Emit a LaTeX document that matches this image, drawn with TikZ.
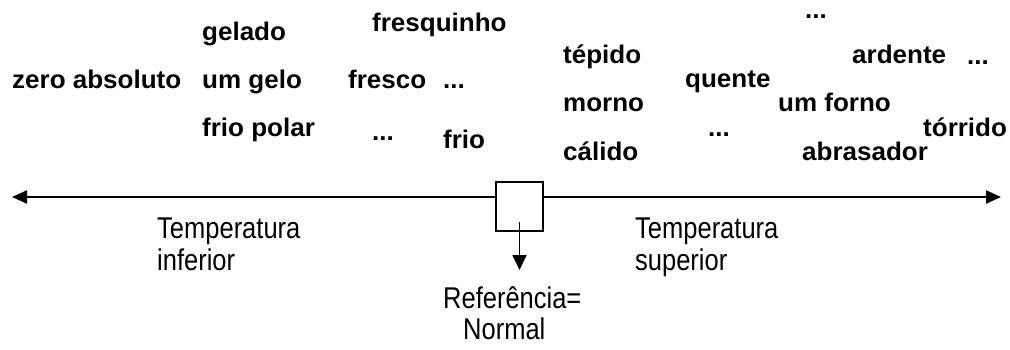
\documentclass[tikz,border=0pt]{standalone}
\usepackage{fontspec}
\usepackage{tikz}
\usetikzlibrary{arrows.meta}
\newfontfamily\wordfont{Liberation Sans}[FakeStretch=1.02]
\newfontfamily\notefont{Liberation Sans}[FakeStretch=0.85]

\begin{document}
\begin{tikzpicture}
[x = 1pt, y = -1pt,
 word/.style = {anchor = base west, inner sep = 0pt, font = \wordfont\bfseries\fontsize{25.5}{30}\selectfont},
 note/.style = {anchor = base west, inner sep = 0pt, font = \notefont\fontsize{30}{32}\selectfont},
 gauge/.style = {draw = black, line width = 1.6pt, fill = white, inner sep = 0pt, minimum width = 47pt, minimum height = 49pt},
 axis/.style = {line width = 2.2pt, -{Triangle[length = 15pt, width = 13pt]}},
 pointer/.style = {line width = 1.8pt, -{Triangle[length = 15pt, width = 14pt]}}
 ]
\useasboundingbox (0,0) rectangle (1010,349);
\node [gauge] (refbox) at (519.5,206.5) {};
\coordinate (lefttip) at (12,197);
\coordinate (righttip) at (1001,197);
\coordinate (stem) at (519.5,222);
\coordinate (reftip) at (519.5,270);
\draw [axis] (refbox.west |- lefttip) -- (lefttip);
\draw [axis] (refbox.east |- righttip) -- (righttip);
\draw [pointer] (stem) -- (reftip);
\node [word] (zeroabs) at (12,88.3) {zero absoluto};
\node [word] (gelado) at (202,40.7) {gelado};
\node [word] (umgelo) at (202,88.3) {um gelo};
\node [word] (friopolar) at (202,136.7) {frio polar};
\node [word] (fresquinho) at (372,31.7) {fresquinho};
\node [word] (fresco) at (348,88.3) {fresco};
\node [word] (dotsa) at (443,88.3) {...};
\node [word] (dotsb) at (372,140) {...};
\node [word] (frio) at (443,148.3) {frio};
\node [word] (tepido) at (563,63.3) {tépido};
\node [word] (morno) at (563,111.7) {morno};
\node [word] (calido) at (563,160) {cálido};
\node [word] (quente) at (685,87.3) {quente};
\node [word] (dotsc) at (708,136.7) {...};
\node [word] (dotsd) at (805,18.3) {...};
\node [word] (ardente) at (852,63.3) {ardente};
\node [word] (dotse) at (967,64.3) {...};
\node [word] (umforno) at (778,111.7) {um forno};
\node [word] (abrasador) at (802,160) {abrasador};
\node [word] (torrido) at (923,136.7) {tórrido};
\node [note] (tempinf) at (157,238.3) {Temperatura};
\node [note] (inferior) at (157,270) {inferior};
\node [note] (tempsup) at (635,238.3) {Temperatura};
\node [note] (superior) at (635,270) {superior};
\node [note] (refa) at (443,308.3) {Referência=};
\node [note] (refb) at (463,339) {Normal};
\end{tikzpicture}
\end{document}
